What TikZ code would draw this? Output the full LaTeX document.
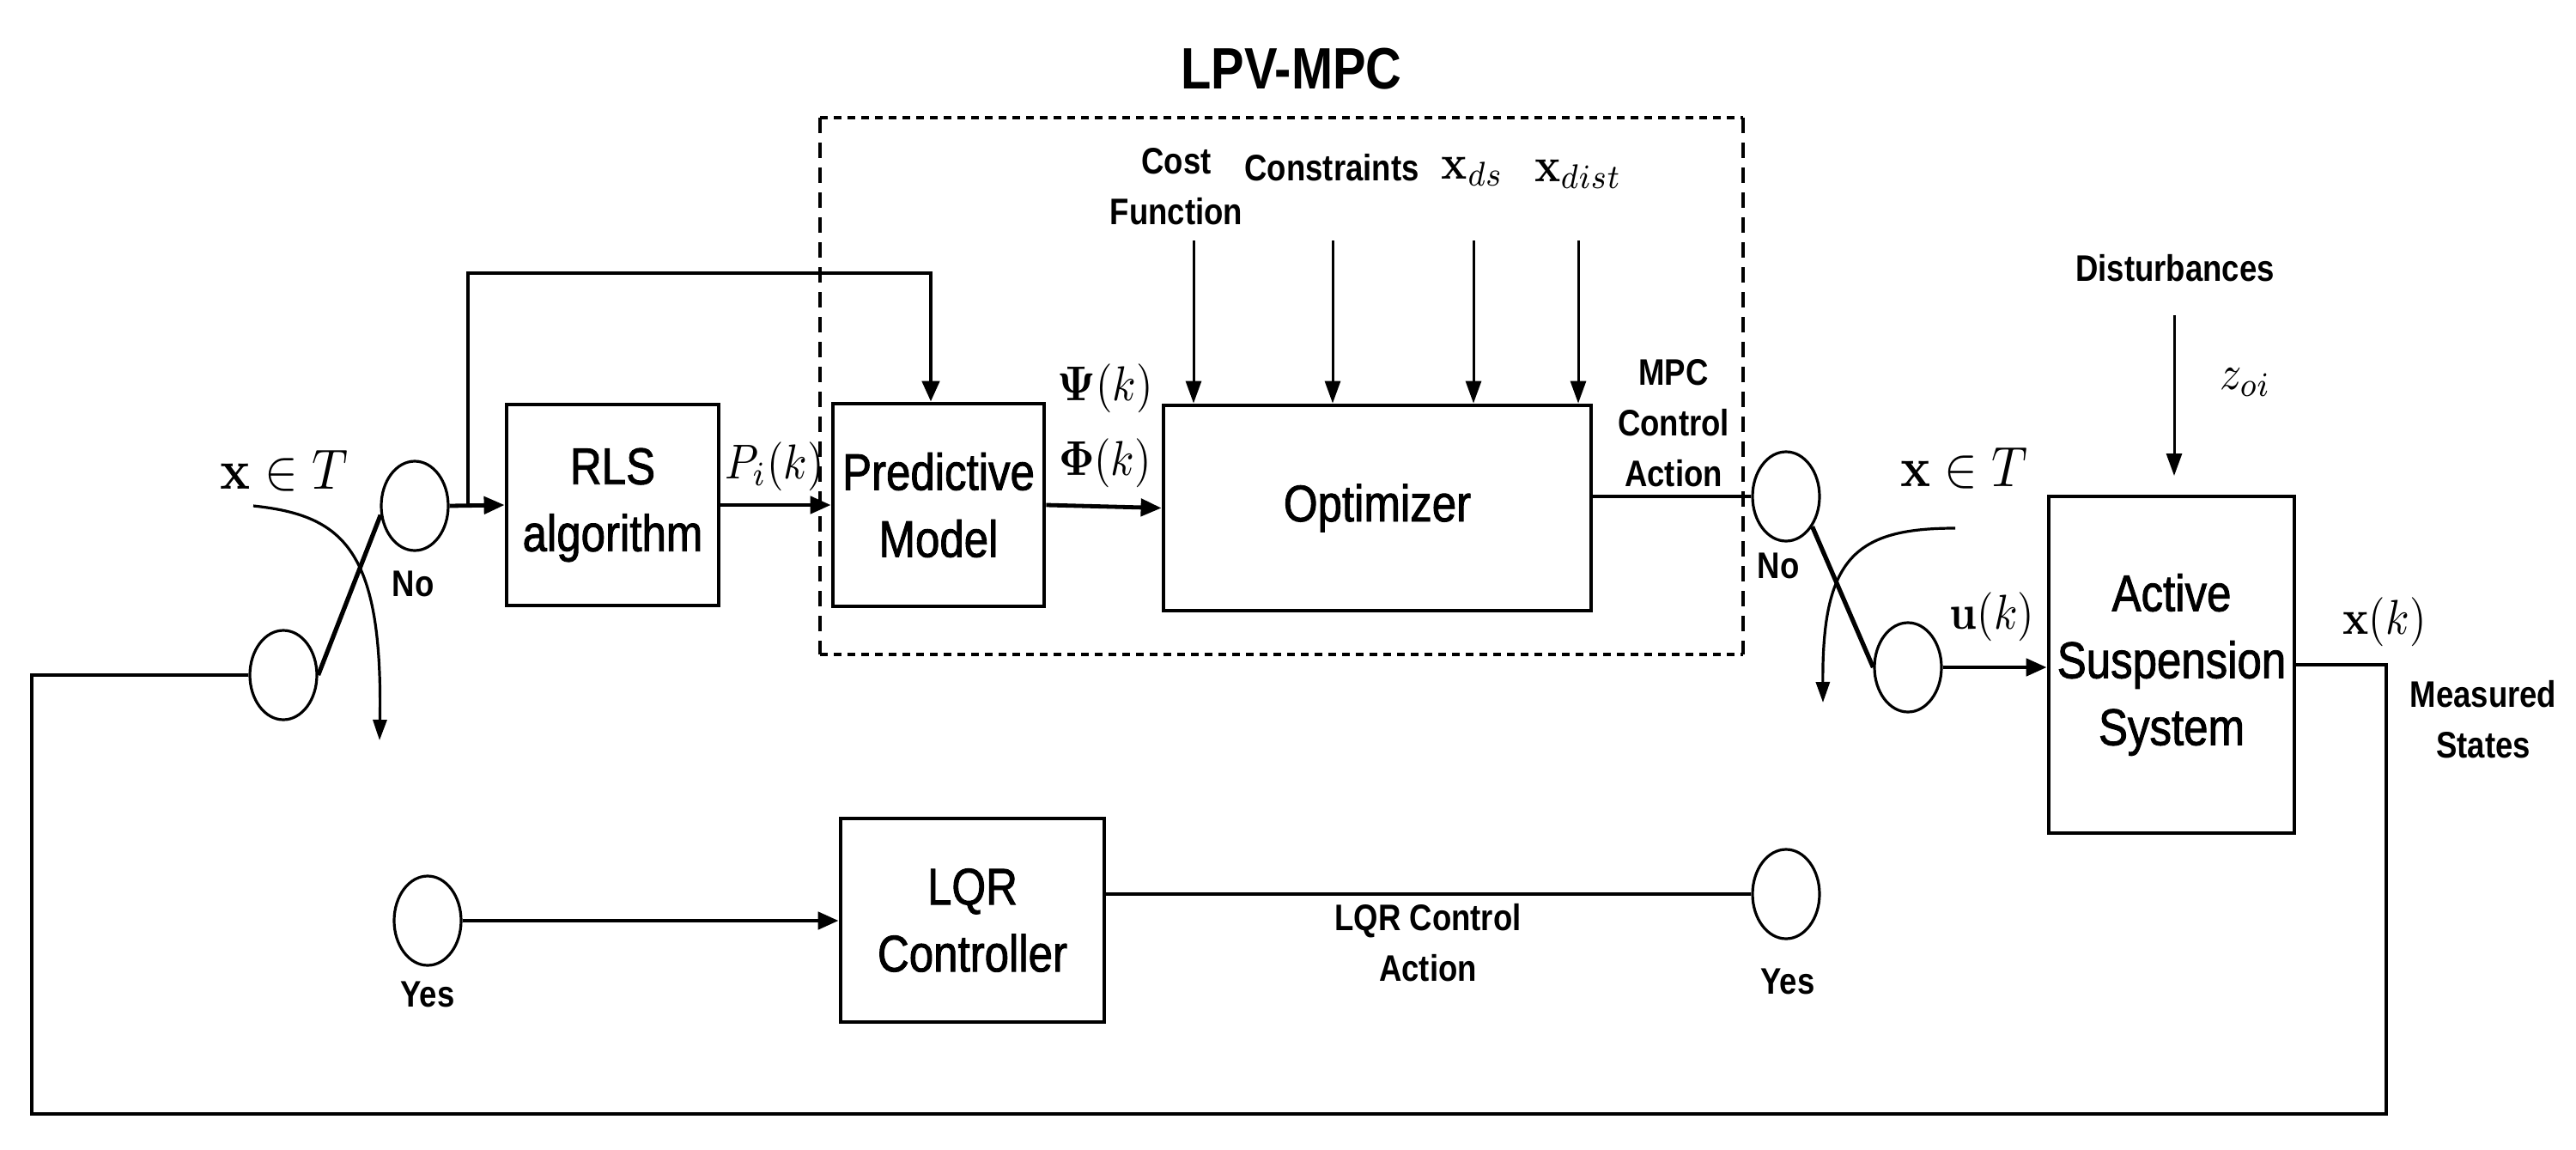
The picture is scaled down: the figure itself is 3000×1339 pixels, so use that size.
\documentclass[tikz,border=0pt]{standalone}
\usepackage[no-math]{fontspec}
\usepackage{graphicx}
\setmainfont{Liberation Sans}[FakeStretch=0.85]
\newfontfamily\medfam{Liberation Sans}[FakeStretch=0.85, FakeBold=1.5]
\usetikzlibrary{arrows.meta,calc,shapes.geometric}
\newcommand{\boxfnt}{\medfam\fontsize{30pt}{39pt}\selectfont}
\newcommand{\labfnt}{\fontsize{21.5pt}{29.5pt}\selectfont\bfseries}
\newcommand{\ttlfnt}{\fontsize{34pt}{40pt}\selectfont\bfseries}
\newcommand{\mth}[1]{\scalebox{2.5}[2.85]{$#1$}}
\newcommand{\mthbig}[1]{\scalebox{2.9}[3.3]{$#1$}}
\tikzset{
  blk/.style={draw, line width=2.4pt, inner sep=0pt, align=center, font=\boxfnt},
  sw/.style={draw, ellipse, line width=1.6pt, minimum width=39pt, minimum height=52pt, inner sep=0pt},
  lab/.style={font=\labfnt, align=center, inner sep=0pt},
  mlab/.style={inner sep=0pt},
  conn/.style={line width=2.4pt},
  arr/.style={line width=2.4pt, -{Triangle[length=12pt,width=10pt]}},
  thinarr/.style={line width=1.5pt, -{Triangle[length=13pt,width=9pt]}},
  curvarr/.style={line width=1.6pt, -{Triangle[length=12pt,width=8pt]}},
  swline/.style={line width=2.6pt},
  dotedge/.style={line width=1.6pt, dash pattern=on 4.5pt off 3.5pt},
  dashedge/.style={line width=1.6pt, dash pattern=on 9pt off 5.5pt}
}
\begin{document}
\begin{tikzpicture}[x=0.5pt,y=-0.5pt]
\fill[white] (0,0) rectangle (3000,1339);
\useasboundingbox (0,0) rectangle (3000,1339);

% title and dashed frame
\node[font=\ttlfnt, inner sep=0pt] (ttl) at (1504,80) {LPV-MPC};
\coordinate (f1) at (955,137);
\coordinate (f2) at (2030,137);
\coordinate (f3) at (2030,762);
\coordinate (f4) at (955,762);
\draw[dotedge] (f1) -- (f2);
\draw[dotedge] (f4) -- (f3);
\draw[dashedge] (f1) -- (f4);
\draw[dashedge] (f2) -- (f3);

% blocks
\node[blk, minimum width=123.5pt, minimum height=117pt] (rls) at (713.5,588) {RLS\\algorithm};
\node[blk, minimum width=123pt, minimum height=118pt] (pm) at (1093,588) {Predictive\\Model};
\node[blk, minimum width=249pt, minimum height=119.5pt] (opt) at (1604,591.5) {Optimizer};
\node[blk, minimum width=153.5pt, minimum height=118.5pt] (lqr) at (1132.5,1071.5) {LQR\\Controller};
\node[blk, minimum width=143pt, minimum height=196pt] (act) at (2529,774) {Active\\Suspension\\System};

% switch contacts
\node[sw] (sl1) at (483,589) {};
\node[sw] (sl2) at (330,786) {};
\node[sw] (sr1) at (2080,578) {};
\node[sw] (sr2) at (2222,777) {};
\node[sw] (y1) at (498,1072) {};
\node[sw] (y2) at (2080,1041) {};

% labels
\node[mlab] (xtl) at (331,548) {\mthbig{\mathbf{x}\in T}};
\node[mlab] (xtr) at (2287,545) {\mthbig{\mathbf{x}\in T}};
\node[lab] (nol) at (481,680) {No};
\node[lab] (nor) at (2071,659) {No};
\node[lab] (yesl) at (498,1158) {Yes};
\node[lab] (yesr) at (2082,1143) {Yes};
\node[mlab] (pik) at (902,543) {\mth{P_i(k)}};
\node[mlab] (psik) at (1287,452) {\mth{\mathbf{\Psi}(k)}};
\node[mlab] (phik) at (1287,539) {\mth{\mathbf{\Phi}(k)}};
\node[lab] (cost) at (1370,217) {Cost\\Function};
\node[lab] (cons) at (1551,195) {Constraints};
\node[mlab] (xds) at (1715,200) {\mth{\mathbf{x}_{ds}}};
\node[mlab] (xdist) at (1838,203) {\mth{\mathbf{x}_{dist}}};
\node[lab] (mpca) at (1949,493) {MPC\\Control\\Action};
\node[mlab] (uk) at (2320,718) {\mth{\mathbf{u}(k)}};
\node[mlab] (zoi) at (2615,445) {\mth{z_{oi}}};
\node[lab] (dist) at (2533,312) {Disturbances};
\node[mlab] (xk) at (2777,724) {\mth{\mathbf{x}(k)}};
\node[lab] (meas) at (2892,838) {Measured\\States};
\node[lab] (lqra) at (1663,1098) {LQR Control\\Action};

% LPV-MPC internal connections
\coordinate (tap) at (545,589);
\coordinate (taptop) at (1084,318);
\draw[arr] (sl1.east) -- (rls.west);
\draw[arr] (tap) |- (taptop) -- (taptop |- pm.north);
\draw[arr] (rls.east) -- (pm.west);
\draw[arr] (pm.east) -- (opt.west);
\coordinate (in1) at (1390,280);
\coordinate (in2) at (1552,280);
\coordinate (in3) at (1716,280);
\coordinate (in4) at (1838,280);
\draw[thinarr] (in1) -- (in1 |- opt.north);
\draw[thinarr] (in2) -- (in2 |- opt.north);
\draw[thinarr] (in3) -- (in3 |- opt.north);
\draw[thinarr] (in4) -- (in4 |- opt.north);
\draw[conn] (sr1.west -| opt.east) -- (sr1.west);

% right switch
\draw[swline] (sr1.-49) -- (sr2.west);
\coordinate (crs) at (2277,615);
\coordinate (cre) at (2123,818);
\draw[curvarr] (crs) .. controls (2160,615) and (2122,650) .. (cre);
\draw[arr] (sr2.east) -- (sr2.east -| act.west);

% disturbance
\coordinate (dtop) at (2532,367);
\coordinate (dend) at (2532,554);
\draw[thinarr] (dtop) -- (dend);

% left switch
\draw[swline] (sl2.east) -- (sl1.195);
\coordinate (cls) at (295,589);
\coordinate (cle) at (442,862);
\draw[curvarr] (cls) .. controls (400,600) and (446,640) .. (cle);

% feedback loop
\coordinate (fb1) at (2779,1297);
\coordinate (fb2) at (37,786);
\draw[conn] (act.east) -| (fb1) -| (fb2) -- (sl2.west);

% LQR path
\draw[arr] (y1.east) -- (y1.east -| lqr.west);
\draw[conn] (lqr.east |- y2.west) -- (y2.west);
\end{tikzpicture}
\end{document}
